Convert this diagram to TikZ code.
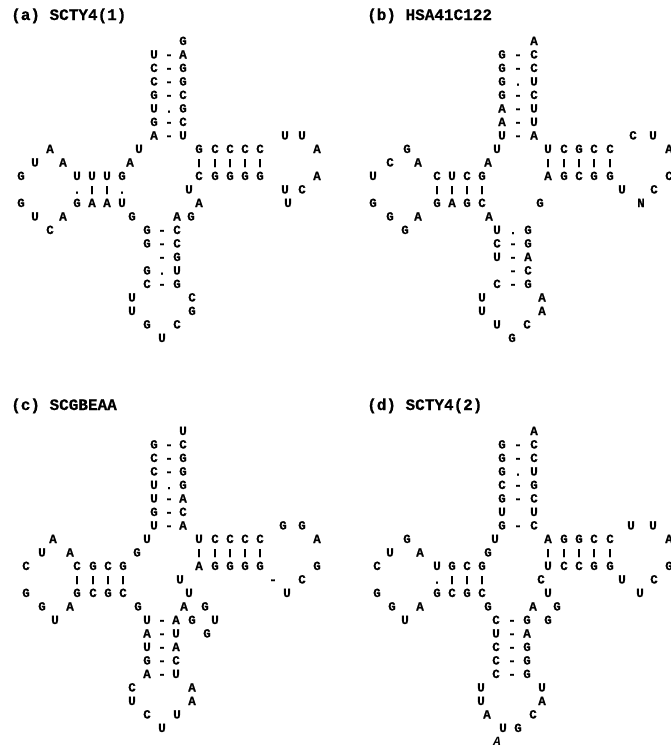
\documentclass[tikz,border=0pt]{standalone}
\usepackage{fontspec}
\newfontfamily\monofnt{Liberation Mono}[BoldFeatures={FakeBold=0.6}]
\tikzset{
  nt/.style={anchor=base, inner sep=0pt, font=\monofnt\bfseries\fontsize{12.5}{12.5}\selectfont},
  ttl/.style={anchor=base west, inner sep=0pt, font=\monofnt\bfseries\fontsize{16}{16}\selectfont}
}
\newcounter{ntc}
\newcommand\NT[3]{\stepcounter{ntc}\node[nt] (nt\arabic{ntc}) at (#1,#2) {#3};}
\newcommand\ROW[3]{\pgfmathsetmacro\rowy{#1+#2*13.5}\foreach \xx/\lt in {#3}{\NT{\xx}{\rowy}{\lt}}}
\newcommand\vb{\raisebox{1.2pt}{\scalebox{1}[0.68]{|}}}
\begin{document}
\begin{tikzpicture}[x=1pt,y=-1pt]
\fill[white] (0,0) rectangle (671,748);
\useasboundingbox (0,0) rectangle (671,748);
% titles
\node[ttl] (ta) at (11,20) {(a) SCTY4(1)};
\node[ttl] (tb) at (367,20) {(b) HSA41C122};
\node[ttl] (tc) at (11,410) {(c) SCGBEAA};
\node[ttl] (td) at (367,410) {(d) SCTY4(2)};
% ---------------- panel (a)
\def\Y{31.5}
\ROW{\Y}{1}{183/G}
\ROW{\Y}{2}{154/U,169/-,183/A}
\ROW{\Y}{3}{154/C,169/-,183/G}
\ROW{\Y}{4}{154/C,169/-,183/G}
\ROW{\Y}{5}{154/G,169/-,183/C}
\ROW{\Y}{6}{154/U,169/.,183/G}
\ROW{\Y}{7}{154/G,169/-,183/C}
\ROW{\Y}{8}{154/A,169/-,183/U,285/U,302/U}
\ROW{\Y}{9}{50/A,139/U,199/G,215/C,230/C,245/C,260/C,317/A}
\ROW{\Y}{10}{35/U,63/A,130/A,199/\vb,215/\vb,230/\vb,245/\vb,260/\vb}
\ROW{\Y}{11}{21/G,77/U,92/U,107/U,122/G,199/C,215/G,230/G,245/G,260/G,317/A}
\ROW{\Y}{12}{77/.,92/\vb,107/\vb,122/.,189/U,285/U,302/C}
\ROW{\Y}{13}{21/G,77/G,92/A,107/A,122/U,199/A,288/U}
\ROW{\Y}{14}{35/U,63/A,132/G,177/A,191/G}
\ROW{\Y}{15}{50/C,147/G,162/-,177/C}
\ROW{\Y}{16}{147/G,162/-,177/C}
\ROW{\Y}{17}{162/-,177/G}
\ROW{\Y}{18}{147/G,162/.,177/U}
\ROW{\Y}{19}{147/C,162/-,177/G}
\ROW{\Y}{20}{132/U,192/C}
\ROW{\Y}{21}{132/U,192/G}
\ROW{\Y}{22}{147/G,177/C}
\ROW{\Y}{23}{162/U}
% ---------------- panel (b)
\ROW{\Y}{1}{534/A}
\ROW{\Y}{2}{502/G,518/-,534/C}
\ROW{\Y}{3}{502/G,518/-,534/C}
\ROW{\Y}{4}{502/G,518/.,534/U}
\ROW{\Y}{5}{502/G,518/-,534/C}
\ROW{\Y}{6}{502/A,518/-,534/U}
\ROW{\Y}{7}{502/A,518/-,534/U}
\ROW{\Y}{8}{502/U,518/-,534/A,633/C,653/U}
\ROW{\Y}{9}{407/G,497/U,548/U,564/C,579/G,594/C,610/C,669/A}
\ROW{\Y}{10}{390/C,418/A,488/A,548/\vb,564/\vb,579/\vb,594/\vb,610/\vb}
\ROW{\Y}{11}{373/U,437/C,452/U,467/C,482/G,548/A,564/G,579/C,594/G,610/G,669/C}
\ROW{\Y}{12}{437/\vb,452/\vb,467/\vb,482/\vb,622/U,654/C}
\ROW{\Y}{13}{373/G,437/G,452/A,467/G,482/C,540/G,641/N}
\ROW{\Y}{14}{390/G,418/A,489/A}
\ROW{\Y}{15}{405/G,497/U,513/.,528/G}
\ROW{\Y}{16}{497/C,513/-,528/G}
\ROW{\Y}{17}{497/U,513/-,528/A}
\ROW{\Y}{18}{513/-,528/C}
\ROW{\Y}{19}{497/C,513/-,528/G}
\ROW{\Y}{20}{482/U,542/A}
\ROW{\Y}{21}{482/U,542/A}
\ROW{\Y}{22}{497/U,527/C}
\ROW{\Y}{23}{512/G}
% ---------------- panel (c)
\def\Y{421.5}
\ROW{\Y}{1}{183/U}
\ROW{\Y}{2}{154/G,169/-,183/C}
\ROW{\Y}{3}{154/C,169/-,183/G}
\ROW{\Y}{4}{154/C,169/-,183/G}
\ROW{\Y}{5}{154/U,169/.,183/G}
\ROW{\Y}{6}{154/U,169/-,183/A}
\ROW{\Y}{7}{154/G,169/-,183/C}
\ROW{\Y}{8}{154/U,169/-,183/A,283/G,302/G}
\ROW{\Y}{9}{53/A,147/U,199/U,215/C,230/C,245/C,260/C,317/A}
\ROW{\Y}{10}{42/U,70/A,137/G,199/\vb,215/\vb,230/\vb,245/\vb,260/\vb}
\ROW{\Y}{11}{26/C,77/C,93/G,108/C,123/G,199/A,215/G,230/G,245/G,260/G,317/G}
\ROW{\Y}{12}{77/\vb,93/\vb,108/\vb,123/\vb,180/U,273/-,302/C}
\ROW{\Y}{13}{26/G,77/G,93/C,108/G,123/C,189/U,287/U}
\ROW{\Y}{14}{42/G,70/A,138/G,184/A,205/G}
\ROW{\Y}{15}{55/U,147/U,162/-,176/A,192/G,215/U}
\ROW{\Y}{16}{147/A,162/-,176/U,207/G}
\ROW{\Y}{17}{147/U,162/-,176/A}
\ROW{\Y}{18}{147/G,162/-,176/C}
\ROW{\Y}{19}{147/A,162/-,176/U}
\ROW{\Y}{20}{132/C,192/A}
\ROW{\Y}{21}{132/U,192/A}
\ROW{\Y}{22}{147/C,177/U}
\ROW{\Y}{23}{162/U}
% ---------------- panel (d)
\ROW{\Y}{1}{534/A}
\ROW{\Y}{2}{502/G,518/-,534/C}
\ROW{\Y}{3}{502/G,518/-,534/C}
\ROW{\Y}{4}{502/G,518/.,534/U}
\ROW{\Y}{5}{502/C,518/-,534/G}
\ROW{\Y}{6}{502/G,518/-,534/C}
\ROW{\Y}{7}{502/U,534/U}
\ROW{\Y}{8}{502/G,518/-,534/C,631/U,653/U}
\ROW{\Y}{9}{407/G,495/U,548/A,564/G,579/G,594/C,610/C,669/A}
\ROW{\Y}{10}{390/U,420/A,488/G,548/\vb,564/\vb,579/\vb,594/\vb,610/\vb}
\ROW{\Y}{11}{377/C,437/U,452/G,467/C,482/G,548/U,564/C,579/C,594/G,610/G,669/G}
\ROW{\Y}{12}{437/.,452/\vb,467/\vb,482/\vb,541/C,622/U,654/C}
\ROW{\Y}{13}{377/G,437/G,452/C,467/G,482/C,548/U,640/U}
\ROW{\Y}{14}{392/G,420/A,488/G,533/A,557/G}
\ROW{\Y}{15}{405/U,496/C,512/-,527/G,548/G}
\ROW{\Y}{16}{496/U,512/-,527/A}
\ROW{\Y}{17}{496/C,512/-,527/G}
\ROW{\Y}{18}{496/C,512/-,527/G}
\ROW{\Y}{19}{496/C,512/-,527/G}
\ROW{\Y}{20}{481/U,542/U}
\ROW{\Y}{21}{481/U,542/A}
\ROW{\Y}{22}{487/A,533/C}
\ROW{\Y}{23}{503/U,518/G}
\ROW{\Y}{24}{497/\textit{A}}
\end{tikzpicture}
\end{document}
